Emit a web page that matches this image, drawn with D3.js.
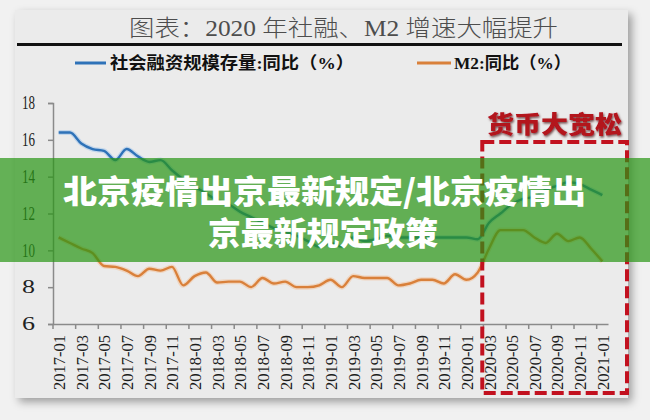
<!DOCTYPE html>
<html><head><meta charset="utf-8">
<script src="https://cdn.jsdelivr.net/npm/d3@7/dist/d3.min.js"></script>
<style>html,body{margin:0;padding:0;background:#f1f1f1;overflow:hidden}svg{display:block}</style>
</head><body>
<script>
const months = ["2017-01","2017-02","2017-03","2017-04","2017-05","2017-06","2017-07","2017-08","2017-09","2017-10","2017-11","2017-12",
"2018-01","2018-02","2018-03","2018-04","2018-05","2018-06","2018-07","2018-08","2018-09","2018-10","2018-11","2018-12",
"2019-01","2019-02","2019-03","2019-04","2019-05","2019-06","2019-07","2019-08","2019-09","2019-10","2019-11","2019-12",
"2020-01","2020-02","2020-03","2020-04","2020-05","2020-06","2020-07","2020-08","2020-09","2020-10","2020-11","2020-12",
"2021-01"];
const tsfValues = [16.4,16.4,15.8,15.5,15.4,14.9,15.5,15.1,14.8,14.9,14.35,13.85,
13.45,13.1,12.7,12.5,12.1,11.8,11.5,11.2,11.0,10.8,10.5,10.2,
10.4,10.2,10.7,10.5,10.6,10.8,10.7,10.7,10.7,10.7,10.7,10.7,
10.7,10.6,11.5,12.0,12.5,12.8,12.9,13.3,13.5,13.7,13.6,13.3,
13.0];
const m2Values = [10.7,10.4,10.1,9.85,9.15,9.1,8.9,8.6,9.0,8.9,9.1,8.1,
8.6,8.8,8.25,8.3,8.3,8.0,8.5,8.2,8.3,8.0,8.0,8.1,
8.4,8.0,8.6,8.5,8.5,8.5,8.1,8.2,8.4,8.4,8.2,8.7,
8.4,8.8,10.1,11.1,11.1,11.1,10.7,10.4,10.9,10.5,10.7,10.1,
9.4];
const yTicks = [6,8,10,12,14,16,18];
const seriesNames = ["社会融资规模存量:同比（%）","M2:同比（%）"];
const titleText = "图表：2020 年社融、M2 增速大幅提升";
const boxLabel = "货币大宽松";
const bannerLines = ["北京疫情出京最新规定/北京疫情出","京最新规定政策"];
const boxStart = "2020-02";

const W=650,H=420;
const svg=d3.select("body").append("svg").attr("width",W).attr("height",H);
const defs=svg.append("defs");
const f=defs.append("filter").attr("id","sh").attr("x","-5%").attr("y","-5%").attr("width","115%").attr("height","115%");
f.append("feDropShadow").attr("dx",4).attr("dy",4).attr("stdDeviation",4).attr("flood-color","#000").attr("flood-opacity",0.35);
const f2=defs.append("filter").attr("id","tsh").attr("x","-10%").attr("y","-30%").attr("width","130%").attr("height","160%");
f2.append("feDropShadow").attr("dx",1).attr("dy",1.5).attr("stdDeviation",1).attr("flood-color","#3a0000").attr("flood-opacity",0.7);

// card
svg.append("rect").attr("x",15).attr("y",10).attr("width",613).attr("height",388).attr("fill","#ebebeb").attr("filter","url(#sh)");

const serif='"Liberation Serif","Noto Sans CJK SC",serif';
// title
svg.append("text").attr("x",129).attr("y",36).attr("font-family",serif).attr("font-size",23).attr("font-weight",300)
  .attr("fill","#4d4d4d").attr("textLength",429).attr("lengthAdjust","spacingAndGlyphs").text(titleText);
svg.append("line").attr("x1",17).attr("x2",622).attr("y1",44.5).attr("y2",44.5).attr("stroke","#111").attr("stroke-width",3);

const colors=["#2e72b8","#d9803a"];
// legend
const lg=[{x1:75,x2:106,tx:110,tl:244},{x1:417,x2:451,tx:454,tl:117}];
lg.forEach((l,i)=>{
  svg.append("line").attr("x1",l.x1).attr("x2",l.x2).attr("y1",63).attr("y2",63).attr("stroke",colors[i]).attr("stroke-width",3);
  svg.append("text").attr("x",l.tx).attr("y",69).attr("font-family",serif).attr("font-size",17).attr("font-weight","bold")
    .attr("fill","#111").attr("textLength",l.tl).attr("lengthAdjust","spacingAndGlyphs").text(seriesNames[i]);
});

const x=d3.scaleBand().domain(months).range([53,608]);
const cx=m=>x(m)+x.bandwidth()/2;
const y=d3.scaleLinear().domain([6,18]).range([324,103]);

// axes
const yAx=svg.append("g").attr("transform","translate(53,0)")
  .call(d3.axisLeft(y).tickValues(yTicks).tickSize(5).tickFormat(d3.format("d")));
yAx.select(".domain").attr("stroke","#8a8a8a").attr("stroke-width",1.5);
yAx.selectAll(".tick line").attr("stroke","#8a8a8a").attr("stroke-width",1.5);
yAx.selectAll(".tick text").attr("x",-18).attr("font-family",serif).attr("font-size",18).attr("fill","#222")
  .attr("textLength",13).attr("lengthAdjust","spacingAndGlyphs");

const tickMonths=months.filter((m,i)=>i%2===0);
const xAx=svg.append("g").attr("transform","translate(0,324)")
  .call(d3.axisBottom(x).tickValues(tickMonths).tickSize(5).tickSizeOuter(0));
xAx.select(".domain").attr("stroke","#8a8a8a").attr("stroke-width",1.5);
xAx.selectAll(".tick").attr("transform",d=>`translate(${x(d)},0)`);
xAx.selectAll(".tick line").attr("stroke","#8a8a8a").attr("stroke-width",1.5);
xAx.selectAll(".tick text").attr("text-anchor","end").attr("dy","0.35em").attr("y",0).attr("x",0)
  .attr("transform",`translate(${x.bandwidth()/2+0.5},11) rotate(-90)`)
  .attr("font-family",serif).attr("font-size",17).attr("fill","#1c1c1c")
  .attr("textLength",55).attr("lengthAdjust","spacingAndGlyphs");

// lines
const line=d3.line().x((d,i)=>cx(months[i])).y(d=>y(d)).curve(d3.curveMonotoneX);
const halo=["#a9c8ea","#f2c7a3"];
[tsfValues,m2Values].forEach((vals,i)=>{
  svg.append("path").attr("d",line(vals)).attr("fill","none").attr("stroke",halo[i]).attr("stroke-width",5).attr("opacity",0.6);
  svg.append("path").attr("d",line(vals)).attr("fill","none").attr("stroke",colors[i]).attr("stroke-width",2.4).attr("stroke-linejoin","round");
});

// red dashed box
const bx=x(boxStart)+x.bandwidth()*0.9;
svg.append("rect").attr("x",bx).attr("y",142).attr("width",627-bx).attr("height",251)
  .attr("fill","none").attr("stroke","#c2111f").attr("stroke-width",4).attr("stroke-dasharray","12,5");
svg.append("text").attr("x",487).attr("y",133).attr("font-family",'"Noto Sans CJK SC",sans-serif').attr("font-weight",900)
  .attr("font-size",24).attr("fill","#b3121c").attr("filter","url(#tsh)")
  .attr("textLength",135).attr("lengthAdjust","spacingAndGlyphs").text(boxLabel);

// banner
svg.append("rect").attr("x",0).attr("y",158).attr("width",W).attr("height",104).attr("fill","rgb(40,150,20)").attr("opacity",0.7);
const bt=[{y:203,x:63,l:523},{y:245,x:208,l:230}];
bannerLines.forEach((t,i)=>{
  svg.append("text").attr("x",bt[i].x).attr("y",bt[i].y).attr("font-family",'"Noto Sans CJK SC",sans-serif').attr("font-weight",900)
    .attr("font-size",32).attr("fill","#fff").attr("textLength",bt[i].l).attr("lengthAdjust","spacingAndGlyphs").text(t);
});
</script>
</body></html>
